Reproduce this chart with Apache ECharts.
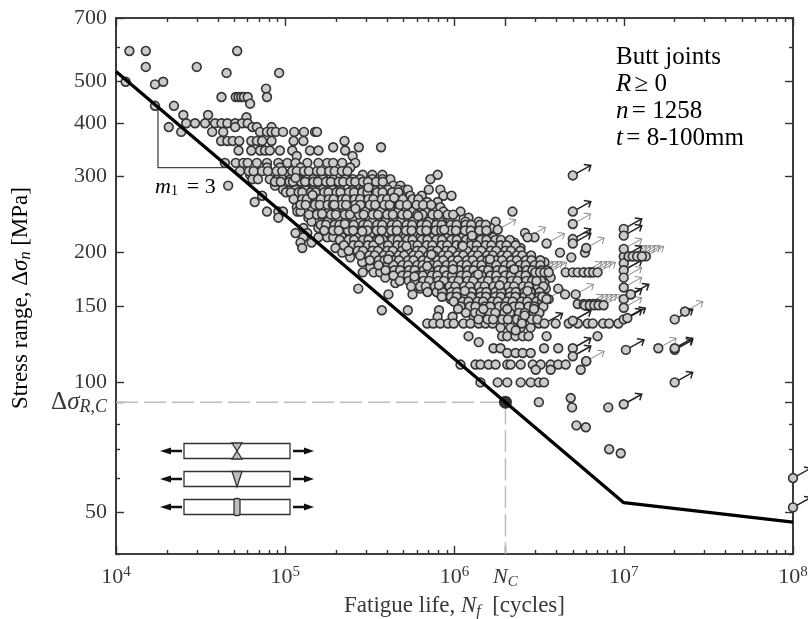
<!DOCTYPE html>
<html><head><meta charset="utf-8">
<style>html,body{margin:0;background:#fff}#c{width:808px;height:619px;filter:blur(0.5px)}</style>
<script src="https://cdn.jsdelivr.net/npm/echarts@6/dist/echarts.min.js"></script>
</head><body><div id="c"></div>
<script>
// Values. Lives in thousands of cycles, stress in MPa.
const xMajor = [1e4,1e5,1e6,2e6,1e7,1e8];
const xMinor = [2e4,3e4,4e4,5e4,6e4,7e4,8e4,9e4,2e5,3e5,4e5,5e5,6e5,7e5,8e5,9e5,3e6,4e6,5e6,6e6,7e6,8e6,9e6,2e7,3e7,4e7,5e7,6e7,7e7,8e7,9e7];
const yMajor = [50,90,100,150,200,300,400,500,700];
const yMinor = [40,60,70,80,600];
const sNCurve = [[1e4,526],[2e6,90],[1e7,52.6],[1e8,47.4]];
const dashH = [[1e4,90],[2e6,90]];
const dashV = [[2e6,90],[2e6,40]];
const slopeTriangle = [[17700,431],[17700,315],[46600,315]];
const knee = [[2e6,90]];

const rowStress = [587,539,522,498,491,480,459,443,438,417,412,399,391,381,363,351,345,335,323,315,303,296,286,280,271,262,255,249,241,236,228,222,217,211,205,200,195,190,185,180,175,170,165,160,156,152,147,142,137,134,128,124,120,117,112,110,107,100,92,90,87.5,79.5,78.7,70,68.5];
const l587 = [12,15,52];
const l539 = [15,30];
const l522 = [45,92];
const l498 = [11.4,19];
const l491 = [17];
const l480 = [77];
const l459 = [42,51,53,55,57,60,78];
const l443 = [62];
const l438 = [17,22];
const l417 = [25,35];
const l412 = [59];
const l399 = [26,29.3,33.6,38.5,42,45.5,50.6,55.5,60];
const l391 = [20.5,50.6,64,68,83];
const l381 = [24.3,37,43,71,78,83,88,97,113,129,150,154];
const l363 = [41.8,45.5,49,53.5,63,68,73,83,112,128,224];
const l351 = [192,272,368];
const l345 = [53,63,71,76,81,93,110,140,157,226];
const l335 = [117,250];
const l323 = [44,51,56.5,60,68,78,91,103,115,135,157,177,192,217,259];
const l315 = [78,93,123,242];
const l303 = [62,91,103,123,167,226,287,327,375,795];
const l296 = [64,69,81,96,107,120,135,146,167,192,226,252,277,327,375,418,720];
const l286 = [46,87,131,185,435,479];
const l280 = [97,107,115,131,146,167,190,211,250,287,340,405,465,512,530,705,825];
const l271 = [73,123,157,226,270,318,372,447,548,640,860,960];
const l262 = [66,135,167,205,236,310,375,460,512,587,690,795];
const l255 = [117,143,185,217,259,327,418,500,628,750,825];
const l249 = [78,91,97,118,123,157,180,242,297,364,465,565,673,860,1085,2200];
const l241 = [91,137,165,205,250,285,350,435,520,610,720,884,1013,1210];
const l236 = [143,177,226,277,327,390,479,570,705,825,946,1160,1390,1750];
const l228 = [128,157,198,242,297,364,447,530,650,771,920,1085,1280,1525,1640];
const l222 = [115,135,175,217,265,327,407,495,600,720,870,1050,1243,1500,2610];
const l217 = [128,157,177,192,217,242,270,355,428,512,628,750,915,1115,1424,1700,2970];
const l211 = [123,143,292,340,418,479,565,673,795,946,1160,1360,1632,1910,2260];
const l205 = [126,198,250,310,375,460,548,655,825,1013,1243,1525,1800,2460];
const l200 = [217,270,327,405,512,610,735,915,1050,1300,1590,1870,2200,4200,5900];
const l195 = [242,297,364,435,548,673,825,975,1190,1390,1680,2000,2295,2740,4900];
const l190 = [285,355,447,587,705,884,1085,1330,1590,1870,2200,2820,3400];
const l185 = [318,405,495,628,771,946,1160,1465,1800,2145,2590,3230];
const l180 = [287,333,364,405,479,570,705,850,1050,1280,1590,1950,2390,3020,4540,5000,5350,5800,6300,6500];
const l175 = [390,530,673,795,975,1243,1490,1750,2145,2530,3150,3700];
const l170 = [447,587,771,920,1115,1390,1632,2000,2460,2900,3400];
const l165 = [270,628,884,1085,1330,1590,1870,2295,2820,3460,4100];
const l160 = [407,565,825,1013,1243,1525,1870,2145,2740,3230,4500];
const l156 = [946,1160,1424,1750,2050,2530,3020,3380,3600];
const l152 = [1085,1330,1632,2000,2390,2820,3230,5350,5800,6250,6560,7000];
const l147 = [372,530,810,1243,1525,1840,2200,2630,3150];
const l142 = [795,975,1300,1632,2000,2390,2900];
const l137 = [690,750,825,915,990,1130,1243,1390,1525,1680,2000,2200,2460,3150,3960,4730,5350,6120,6560,7550,8200,9300];
const l134 = [1870,2145,2460,2820];
const l128 = [1210,1910,2050,2295,2530,2740,3500,7000];
const l124 = [1390];
const l120 = [1700,1870,3380,4100];
const l117 = [2050,2295,2530,2820];
const l112 = [6000];
const l110 = [1085,1330,1424,1590,1750,2050,2145,2460,2900,3230,3700,4100,4540];
const l107 = [3020,3700,5570];
const l100 = [1424,1800,2050,2460,2820,3150,3380];
const l92 = [4860];
const l90 = [3150];
const l875 = [4950,8100];
const l795 = [5250];
const l787 = [5970];
const l70 = [8200];
const l685 = [9600];
const rowLives = [l587,l539,l522,l498,l491,l480,l459,l443,l438,l417,l412,l399,l391,l381,l363,l351,l345,l335,l323,l315,l303,l296,l286,l280,l271,l262,l255,l249,l241,l236,l228,l222,l217,l211,l205,l200,l195,l190,l185,l180,l175,l170,l165,l160,l156,l152,l147,l142,l137,l134,l128,l124,l120,l117,l112,l110,l107,l100,l92,l90,l875,l795,l787,l70,l685];

// Denser rows of the cloud
const denseStress = [309,292,276,266,258,245,232,225,214,208,202,197,192,187,182,177,172,167,162,158,154,150,145,140];
const d309 = [54,61,65,73,79,89,96,110,117,129,138,154,163,182,196,216,233];
const d292 = [87,94,106,111,124,131,147,156,174,186,207,220,243,259,288,308,344,377];
const d276 = [101,108,120,126,142,151,170,180,201,212,238,255,285,306,349,376,429,466];
const d266 = [112,126,134,152,162,181,193,217,229,257,277,310,332,372,400,450,495,565,612];
const d258 = [123,132,150,160,178,191,215,229,259,278,316,340,385,414,476,524,597,652,728];
const d245 = [138,154,166,186,199,225,241,273,291,329,353,400,432,491,528,602,648,741,800,910,982];
const d232 = [162,174,196,209,238,254,289,308,349,374,426,458,521,562,638,686,779,840,951,1028,1164,1255,1418,1530];
const d225 = [170,192,207,235,252,286,306,347,372,423,456,517,558,633,682,774,835,947,1020,1153,1246,1405,1543];
const d214 = [210,237,255,288,310,350,379,429,462,525,565,640,692,781,843,957,1032,1170,1260,1428,1544,1742,1880,2124];
const d208 = [222,253,272,308,332,377,405,460,495,562,605,686,740,840,907,1028,1108,1255,1353,1530,1652,1870,2030,2295];
const d202 = [237,268,288,327,353,401,432,490,528,600,646,731,790,896,966,1094,1182,1338,1442,1635,1765,2000,2155,2445];
const d197 = [277,314,338,383,413,468,504,572,617,699,753,852,920,1043,1126,1276,1375,1559,1682,1905,2055,2330,2515,2835];
const d192 = [316,357,386,436,470,533,573,650,702,795,858,972,1048,1186,1282,1448,1563,1767,1910,2162,2335,2643,2850,3215];
const d187 = [356,403,435,492,532,602,648,735,794,897,976,1096,1182,1338,1445,1634,1765,1996,2156,2438,2632,2975,3215];
const d182 = [391,441,477,539,582,658,711,805,869,985,1060,1200,1296,1466,1583,1792,1935,2187,2361,2672,2885,3260,3520];
const d177 = [436,492,531,601,650,734,792,897,968,1094,1182,1337,1444,1632,1764,1994,2153,2435,2631,2975,3215];
const d172 = [475,537,580,656,708,802,866,979,1057,1195,1291,1460,1578,1783,1925,2178,2352,2660,2873,3250];
const d167 = [554,626,677,765,826,936,1010,1142,1233,1395,1507,1703,1840,2082,2248,2542,2745,3105,3352];
const d162 = [693,784,846,957,1034,1168,1262,1428,1542,1743,1885,2130,2302,2602,2810,3180];
const d158 = [842,952,1029,1162,1256,1420,1535,1735,1875,2120,2290,2590,2798,3165,3415];
const d154 = [990,1120,1210,1368,1478,1670,1805,2040,2205,2492,2692,3045,3290];
const d150 = [1089,1232,1330,1505,1625,1838,1985,2245,2425,2742,2962,3350];
const d145 = [1168,1322,1427,1614,1742,1970,2128,2408,2600,2940,3176];
const d140 = [1386,1568,1692,1915,2068,2338,2526,2856,3085];
const denseLives = [d309,d292,d276,d266,d258,d245,d232,d225,d214,d208,d202,d197,d192,d187,d182,d177,d172,d167,d162,d158,d154,d150,d145,d140];

// Off-row specimens scattered through the cloud: [cycles, MPa]
const scatterLives = [[3.1e5,283],[4.4e5,268],[2.6e5,253],[6.1e5,243],[8.7e5,226],[1.27e6,219],[5.2e5,207],[3.6e5,214],[7.3e5,198],[1.12e6,207],[1.62e6,193],[9.8e5,183],[1.38e6,178],[2.25e6,183],[1.85e6,168],[2.7e6,163],[1.15e6,163],[3.05e6,172],[2.05e6,148],[2.6e6,143],[1.48e6,148],[3.3e6,158],[2.3e6,132],[1.65e5,246],[2.25e5,233],[1.45e5,272],[1.95e5,258],[1.15e5,298],[2.85e5,224],[4.05e5,193],[5.8e5,176],[6.9e5,186],[8.1e5,168],[1.05e6,148],[2.95e6,148]];

// Run-outs: [cycles, MPa]
const runoutBold = [[5e6,302],[5e6,249],[5e6,215],[5e6,210],[1e7,227],[1e7,219],[1e7,196],[1e7,189],[1e7,182],[1e7,156],[1e7,140],[5e6,120],[5e6,115],[1.03e7,119],[2e7,119],[2e7,120],[2e7,100],[2e7,140],[1e7,89],[1e8,60],[1e8,51.3],[3.4e6,137],[5e6,139],[1.1e7,160],[1.05e7,141]];
const runoutFaint = [[5e6,233],[6e6,205],[3.5e6,210],[1.8e6,226],[2.7e6,217],[1e7,204],[1e7,175],[1e7,166],[1.1e7,160],[1e7,149],[3e6,180],[3.2e6,180],[3.4e6,180],[3.6e6,180],[5.8e6,180],[6.2e6,180],[6.6e6,180],[7e6,180],[5.9e6,151],[6.3e6,151],[6.7e6,151],[7.1e6,151],[7.6e6,151],[1.07e7,196],[1.13e7,196],[1.2e7,196],[1.28e7,196],[1.35e7,196],[3.5e6,156],[5.2e6,160],[6e6,112],[1.6e7,120],[2.3e7,146],[2.5e6,137]];
const runoutCircles = [[1.07e7,196],[1.13e7,196],[1.2e7,196],[1.28e7,196]];

const serif = '"Liberation Serif","Times New Roman",serif';
const ink = '#383838';
const mk = (fs,sub)=>({
  t:{fontFamily:serif,fontSize:fs,color:ink},
  i:{fontFamily:serif,fontSize:fs,fontStyle:'italic',color:ink},
  u:{fontFamily:serif,fontSize:sub,color:ink,padding:[0,0,10,0]},
  d:{fontFamily:serif,fontSize:sub,fontStyle:'italic',color:ink,padding:[10,0,0,0]}
});
const tickRich = mk(22,15), nameRich = mk(23,16), noteRich = mk(25,16);
tickRich.D = {fontFamily:serif,fontSize:25,color:ink};
tickRich.S = {fontFamily:serif,fontSize:25,fontStyle:'italic',color:ink};
tickRich.B = {fontFamily:serif,fontSize:18,fontStyle:'italic',color:ink,padding:[10,0,0,0]};

const points = rowStress.flatMap((s,i)=>rowLives[i].map(k=>[k*1000,s]))
  .concat(denseStress.flatMap((s,i)=>denseLives[i].map(k=>[k*1000,s])));
const allCircles = points.concat(scatterLives, runoutBold, runoutFaint, runoutCircles);

function fmtX(v){
  if (Math.abs(v-2e6)<1) return '{i|N}{d|C}';
  return '{t|10}{u|'+Math.round(Math.log10(v))+'}';
}
function fmtY(v){
  if (Math.abs(v-90)<0.01) return '{D|Δ}{S|σ}{B|R,C}';
  return '{t|'+v+'}';
}
function axisLine(){return {show:true,onZero:false,lineStyle:{color:'#333',width:1.6}};}
function xa(pos,vals,len,withLabels){
  return {type:'log',logBase:10,min:1e4,max:1e8,position:pos,splitLine:{show:false},minorTick:{show:false},
    axisLine:axisLine(),
    axisTick:{show:true,inside:true,length:len,customValues:vals,lineStyle:{color:'#333',width:1.4}},
    axisLabel:withLabels?{show:true,customValues:vals,formatter:fmtX,margin:11,rich:tickRich,hideOverlap:false,showMinLabel:true,showMaxLabel:true}:{show:false},
    name:withLabels?'{t|Fatigue life, }{i|N}{d|f}{t|  [cycles]}':'',nameLocation:'middle',nameGap:39,nameTextStyle:{rich:nameRich}};
}
function ya(pos,vals,len,withLabels){
  return {type:'log',logBase:10,min:40,max:700,position:pos,splitLine:{show:false},minorTick:{show:false},
    axisLine:axisLine(),
    axisTick:{show:true,inside:true,length:len,customValues:vals,lineStyle:{color:'#333',width:1.4}},
    axisLabel:withLabels?{show:true,customValues:vals,formatter:fmtY,margin:9,rich:tickRich,hideOverlap:false,showMinLabel:true,showMaxLabel:true}:{show:false}};
}
function arrowSeries(data,color,width){
  return {type:'custom',data,z:5,silent:true,encode:{x:0,y:1},
    renderItem(p,api){
      const c=api.coord([api.value(0),api.value(1)]);
      const tip=[c[0]+18,c[1]-10];
      const st={stroke:color,lineWidth:width,fill:null};
      return {type:'group',children:[
        {type:'polyline',shape:{points:[c,tip]},style:st},
        {type:'polyline',shape:{points:[[tip[0]-7,tip[1]-1],tip,[tip[0]-2,tip[1]+6]]},style:st}
      ]};
    }};
}
// Joint sketches (decorative inset)
const iconRows = [451,479,507];
const iconG = [];
iconRows.forEach((y)=>{
  iconG.push({type:'rect',shape:{x:184,y:y-7.5,width:106,height:15},style:{fill:'#fff',stroke:'#333',lineWidth:1.3}});
  iconG.push({type:'line',shape:{x1:170,y1:y,x2:182,y2:y},style:{stroke:'#111',lineWidth:2.5}});
  iconG.push({type:'polygon',shape:{points:[[160,y],[171,y-3.5],[171,y+3.5]]},style:{fill:'#111'}});
  iconG.push({type:'line',shape:{x1:293,y1:y,x2:305,y2:y},style:{stroke:'#111',lineWidth:2.5}});
  iconG.push({type:'polygon',shape:{points:[[314,y],[304,y-3.5],[304,y+3.5]]},style:{fill:'#111'}});
});
const weld={fill:'#bdbdbd',stroke:'#333',lineWidth:1.3};
iconG.push({type:'polygon',shape:{points:[[232,443],[242,443],[237,451]]},style:weld});
iconG.push({type:'polygon',shape:{points:[[232,459],[242,459],[237,451]]},style:weld});
iconG.push({type:'polygon',shape:{points:[[232,471.5],[242,471.5],[237,487]]},style:weld});
iconG.push({type:'rect',shape:{x:234,y:498.5,width:6,height:17,r:2},style:weld});

const notes = [['{t|Butt joints}',57],['{i|R} {t|≥ 0}',84],['{i|n} {t|= 1258}',111],['{i|t} {t|= 8-100mm}',138]];
const graphicEls = iconG.concat(notes.map(([text,y])=>({type:'text',x:616,y,style:{text,rich:noteRich,verticalAlign:'middle',align:'left'},z:20})));
graphicEls.push({type:'text',x:155,y:187,z:20,style:{text:'{i|m}{e|1} {f| = 3}',verticalAlign:'middle',rich:{
  i:{fontFamily:serif,fontSize:22,fontStyle:'italic',color:ink},
  e:{fontFamily:serif,fontSize:14,color:ink,padding:[8,0,0,0]},
  f:{fontFamily:serif,fontSize:22,color:ink}}}});
graphicEls.push({type:'text',x:21,y:298,rotation:Math.PI/2,z:20,style:{text:'{t|Stress range, Δ}{i|σ}{d|n}{t| [MPa]}',rich:nameRich,align:'center',verticalAlign:'middle'}});

const chart = echarts.init(document.getElementById('c'),null,{renderer:'canvas'});
chart.setOption({
  animation:false,backgroundColor:'#fff',
  grid:{left:116,right:15,top:18,bottom:65,containLabel:false,outerBoundsMode:'none'},
  xAxis:[xa('bottom',xMajor,8,true),xa('bottom',xMinor,4,false),xa('top',xMajor,8,false),xa('top',xMinor,4,false)],
  yAxis:[ya('left',yMajor,8,true),ya('left',yMinor,4,false),ya('right',yMajor,8,false),ya('right',yMinor,4,false)],
  graphic:graphicEls,
  series:[
    {type:'line',data:dashH,symbol:'none',z:1,lineStyle:{color:'#bdbdbd',width:1.5,type:[22,6]}},
    {type:'line',data:dashV,symbol:'none',z:1,lineStyle:{color:'#bdbdbd',width:1.5,type:[22,6]}},
    {type:'line',data:slopeTriangle,symbol:'none',z:1,lineStyle:{color:'#444',width:1.3}},
    arrowSeries(runoutFaint,'#8a8a8a',1),
    arrowSeries(runoutBold,'#222',1.5),
    {type:'scatter',data:allCircles,symbol:'circle',symbolSize:8.8,clip:false,z:6,itemStyle:{color:'#cbcbcb',borderColor:'#333',borderWidth:1.6,opacity:1}},
    {type:'line',data:sNCurve,symbol:'none',z:8,lineStyle:{color:'#000',width:3.3}},
    {type:'scatter',data:knee,symbol:'circle',symbolSize:13,z:9,itemStyle:{color:'#000'}}
  ]
});
</script></body></html>
